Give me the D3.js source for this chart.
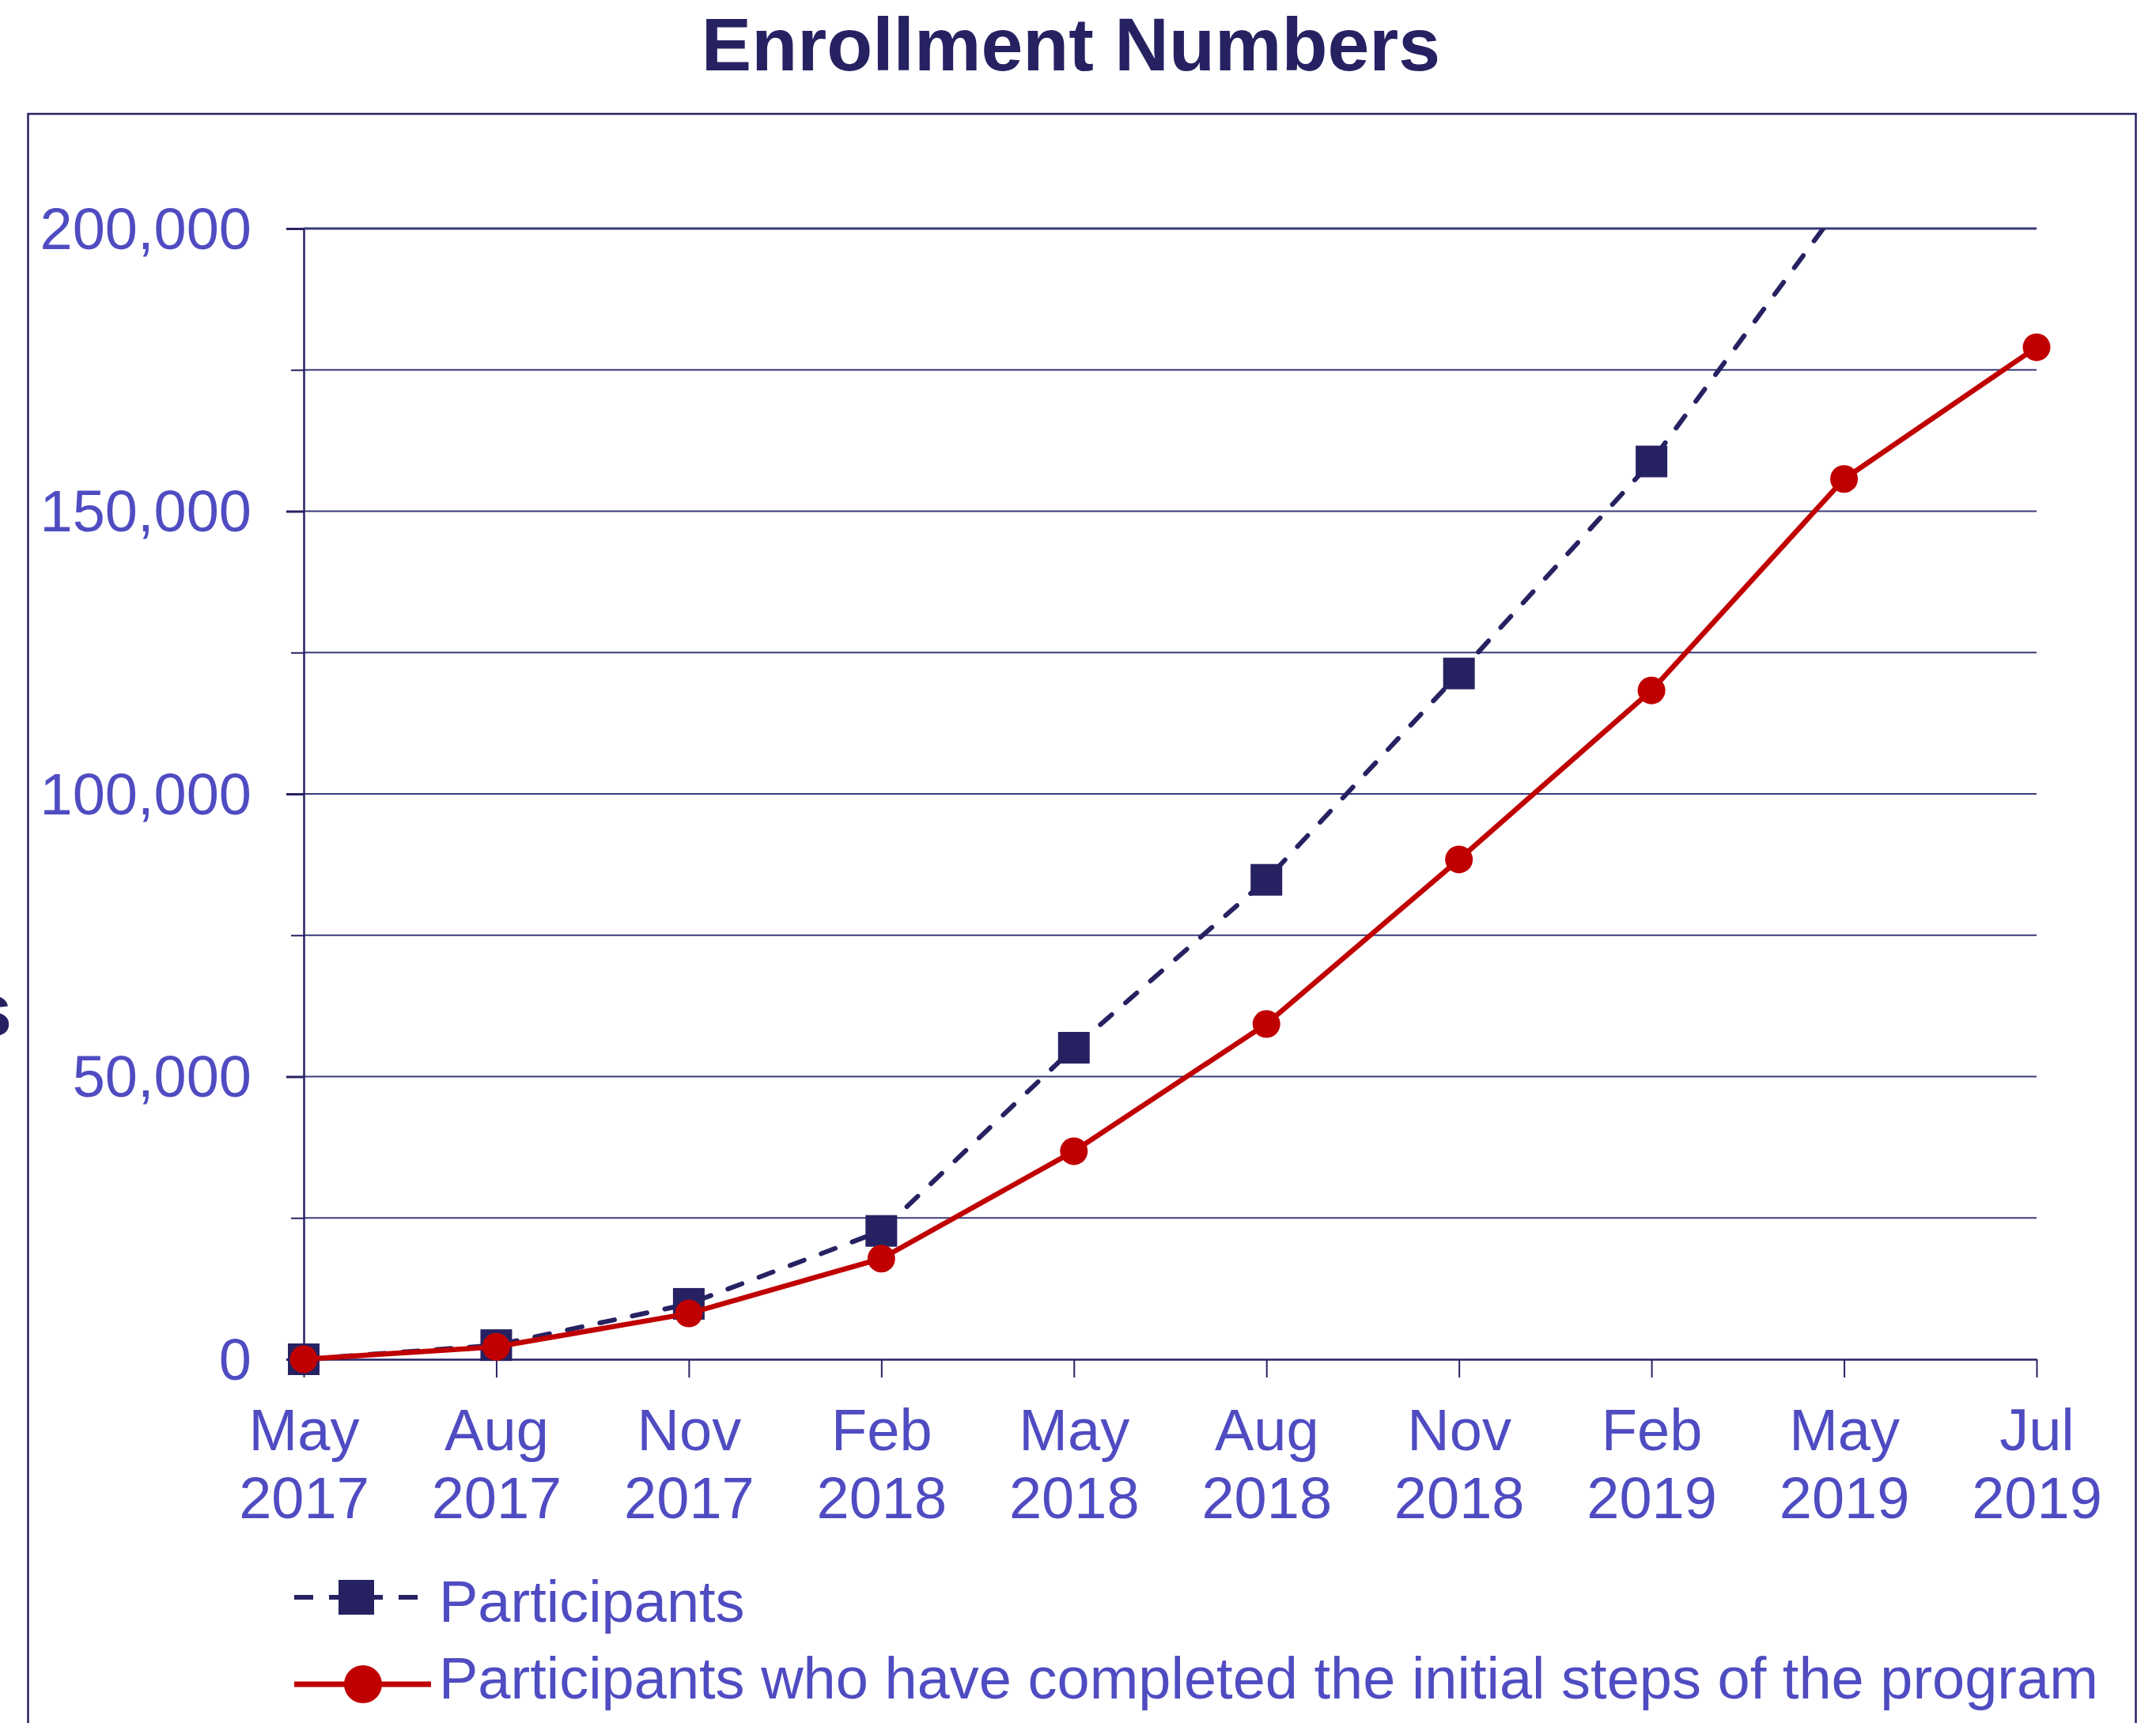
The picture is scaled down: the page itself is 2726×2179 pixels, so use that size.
<!DOCTYPE html>
<html>
<head>
<meta charset="utf-8">
<script src="https://cdn.jsdelivr.net/npm/d3@7"></script>
<style>
  html, body { margin: 0; padding: 0; background: #ffffff; }
  svg { display: block; font-family: "Liberation Sans", Arial, Helvetica, sans-serif; }
</style>
</head>
<body>
<script>
// ---- data ----
const monthLabels = ["May", "Aug", "Nov", "Feb", "May", "Aug", "Nov", "Feb", "May", "Jul"];
const yearLabels  = ["2017", "2017", "2017", "2018", "2018", "2018", "2018", "2019", "2019", "2019"];
const categories  = monthLabels.map((m, i) => m + " " + yearLabels[i]);
const participants = [0, 2500, 9800, 22700, 55100, 84800, 121300, 158800, 205000, null];
const completed    = [0, 2200, 8100, 17800, 36800, 59300, 88400, 118300, 155700, 179000];
const yTickValues  = [0, 25000, 50000, 75000, 100000, 125000, 150000, 175000, 200000];
const yLabelValues = [0, 50000, 100000, 150000, 200000];
const seriesNames  = ["Participants", "Participants who have completed the initial steps of the program"];
const titleText = "Enrollment Numbers";
const yAxisTitle = "Participants";

// ---- styles ----
const W = 2726, H = 2179;
const navy = "#262262";
const red = "#C00000";
const labelColor = "#4F4CC2";
const gridColor = "#3A3A7A";
const fs = 74;

const svg = d3.select("body").append("svg").attr("width", W).attr("height", H);
svg.append("rect").attr("width", W).attr("height", H).attr("fill", "#fff");

// frame
svg.append("rect").attr("x", 35.5).attr("y", 144).attr("width", 2665).attr("height", 2100)
  .attr("fill", "none").attr("stroke", navy).attr("stroke-width", 2.5);

// title
svg.append("text").attr("x", 1354).attr("y", 89).attr("text-anchor", "middle")
  .attr("font-size", 95).attr("font-weight", "bold").attr("fill", navy).text(titleText);

// y-axis title (mostly off-canvas, as in the reference)
svg.append("text").attr("x", 15).attr("y", 1310).attr("text-anchor", "end")
  .attr("font-size", 95).attr("font-weight", "bold").attr("fill", navy).text(yAxisTitle);

// scales
const plot = { left: 384, right: 2575, top: 289, bottom: 1719 };
const x = d3.scalePoint().domain(categories).range([plot.left, plot.right]);
const y = d3.scaleLinear().domain([0, 200000]).range([plot.bottom, plot.top]);

// gridlines
svg.append("g").selectAll("line").data(yTickValues.filter(v => v > 0)).join("line")
  .attr("x1", plot.left).attr("x2", plot.right)
  .attr("y1", d => y(d)).attr("y2", d => y(d))
  .attr("stroke", gridColor).attr("stroke-width", d => d === 200000 ? 3 : 2);

// y axis
const yAxis = svg.append("g").attr("transform", `translate(${plot.left},0)`)
  .call(d3.axisLeft(y).tickValues(yTickValues).tickSize(0).tickFormat(""));
yAxis.select(".domain").attr("stroke", navy).attr("stroke-width", 2.5);
yAxis.selectAll(".tick line").remove();
yAxis.selectAll(".tick").append("line")
  .attr("x1", d => yLabelValues.includes(d) ? -22 : -16).attr("x2", 0)
  .attr("stroke", navy).attr("stroke-width", d => yLabelValues.includes(d) ? 3 : 2);
yAxis.selectAll(".tick").filter(d => yLabelValues.includes(d)).append("text")
  .attr("x", -66).attr("dy", "0.34em").attr("text-anchor", "end")
  .attr("font-size", fs).attr("fill", labelColor).text(d => d3.format(",")(d));

// x axis
const xAxis = svg.append("g").attr("transform", `translate(0,${plot.bottom})`)
  .call(d3.axisBottom(x).tickSize(23).tickSizeOuter(0).tickFormat(""));
xAxis.select(".domain").attr("stroke", navy).attr("stroke-width", 2.5);
xAxis.selectAll(".tick line").attr("stroke", navy).attr("stroke-width", 2);
xAxis.selectAll(".tick").append("text").attr("text-anchor", "middle").attr("font-size", fs)
  .attr("fill", labelColor)
  .each(function(d, i) {
    const t = d3.select(this);
    t.append("tspan").attr("x", 0).attr("y", 115).text(monthLabels[i]);
    t.append("tspan").attr("x", 0).attr("y", 201).text(yearLabels[i]);
  });

// clip
svg.append("clipPath").attr("id", "plotclip").append("rect")
  .attr("x", plot.left - 40).attr("y", plot.top).attr("width", plot.right - plot.left + 80)
  .attr("height", plot.bottom - plot.top + 40);

const g = svg.append("g").attr("clip-path", "url(#plotclip)");

const line = d3.line().defined(d => d.v !== null).x(d => x(d.c)).y(d => y(d.v));
const pData = categories.map((c, i) => ({ c, v: participants[i] }));
const cData = categories.map((c, i) => ({ c, v: completed[i] }));

g.append("path").datum(pData).attr("d", line).attr("fill", "none")
  .attr("stroke", navy).attr("stroke-width", 6).attr("stroke-linecap", "round")
  .attr("stroke-dasharray", "19,23");
g.selectAll("rect.pm").data(pData.filter(d => d.v !== null && d.v <= 200000)).join("rect")
  .attr("class", "pm")
  .attr("x", d => x(d.c) - 20).attr("y", d => y(d.v) - 20)
  .attr("width", 40).attr("height", 40).attr("fill", navy);

g.append("path").datum(cData).attr("d", line).attr("fill", "none")
  .attr("stroke", red).attr("stroke-width", 6.5);
g.selectAll("circle.cm").data(cData).join("circle").attr("class", "cm")
  .attr("cx", d => x(d.c)).attr("cy", d => y(d.v)).attr("r", 17.5).attr("fill", red);

// legend
const lg = svg.append("g");
lg.append("line").attr("x1", 372).attr("x2", 545).attr("y1", 2020).attr("y2", 2020)
  .attr("stroke", navy).attr("stroke-width", 6).attr("stroke-dasharray", "24,20");
lg.append("rect").attr("x", 428).attr("y", 1998).attr("width", 45).attr("height", 44).attr("fill", navy);
lg.append("text").attr("x", 555).attr("y", 2051).attr("font-size", fs).attr("fill", labelColor).text(seriesNames[0]);

lg.append("line").attr("x1", 372).attr("x2", 545).attr("y1", 2130).attr("y2", 2130)
  .attr("stroke", red).attr("stroke-width", 7);
lg.append("circle").attr("cx", 459).attr("cy", 2130).attr("r", 24).attr("fill", red);
lg.append("text").attr("x", 555).attr("y", 2148).attr("font-size", fs).attr("fill", labelColor).text(seriesNames[1]);
</script>
</body>
</html>
